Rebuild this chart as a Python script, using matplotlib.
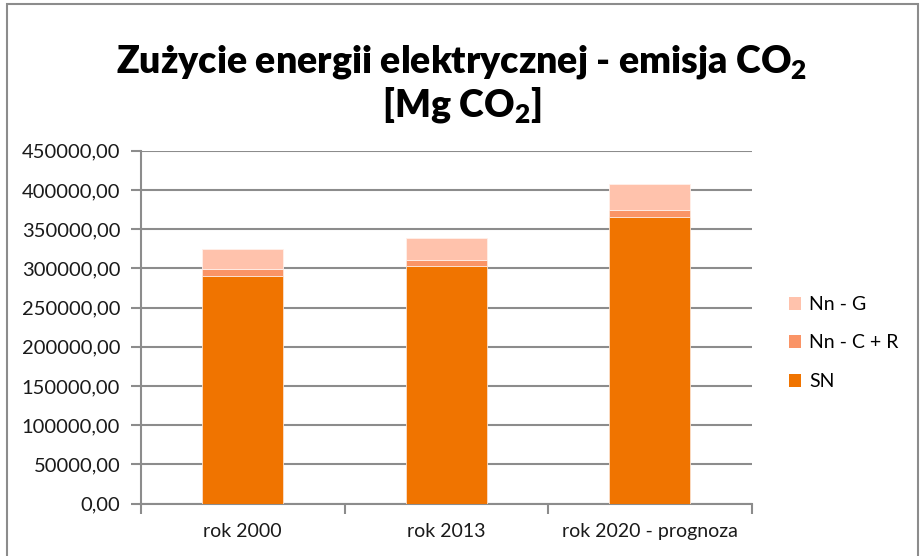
import matplotlib
matplotlib.use("Agg")
import matplotlib.pyplot as plt
from matplotlib.patches import Rectangle, Patch
import numpy as np

categories = ["rok 2000", "rok 2013", "rok 2020 - prognoza"]
sn = [290600, 303400, 365900]
nn_cr = [8200, 7700, 8900]
nn_g = [25500, 27200, 32700]
series_labels = ["SN", "Nn - C + R", "Nn - G"]
yticks = np.arange(0, 450001, 50000)

colors = ["#F07400", "#FA9466", "#FFC2AC"]

plt.rcParams['font.family'] = ['Lato', 'DejaVu Sans']

W, H = 923, 556
fig = plt.figure(figsize=(W / 100, H / 100), dpi=100)

def fx(px):
    return px / W

def fy(py):
    return 1 - py / H

# outer chart border
fig.patches.append(Rectangle((fx(7), fy(560)), fx(918) - fx(7), fy(4) - fy(560),
                             transform=fig.transFigure, fill=False,
                             edgecolor="#8c8c8c", linewidth=1.5))

ax = fig.add_axes([fx(141), fy(503.7), fx(751.5) - fx(141), fy(150.7) - fy(503.7)])

x = np.arange(len(categories))
bw = 0.40
ax.bar(x, sn, bw, color=colors[0], edgecolor="#fbe0cc", linewidth=0.6, zorder=3)
bottom2 = np.array(sn)
ax.bar(x, nn_cr, bw, bottom=bottom2, color=colors[1], edgecolor="#fde6da", linewidth=0.6, zorder=3)
bottom3 = bottom2 + np.array(nn_cr)
ax.bar(x, nn_g, bw, bottom=bottom3, color=colors[2], edgecolor="#fff0ea", linewidth=0.6, zorder=3)

ax.set_xlim(-0.5, len(categories) - 0.5)
ax.set_ylim(0, 450000)
ax.set_yticks(yticks)
ax.set_yticklabels([f"{v:.2f}".replace(".", ",") for v in yticks], fontsize=14.5, color="#1a1a1a")
ax.yaxis.grid(True, color="#8c8c8c", linewidth=1.5, zorder=0)
ax.set_axisbelow(True)

ax.set_xticks(x)
ax.set_xticklabels(categories, fontsize=14, color="#1a1a1a")
ax.tick_params(axis="x", length=0, pad=14)
ax.set_xticks(np.arange(-0.5, len(categories)), minor=True)
ax.tick_params(axis="x", which="minor", length=7, width=1.5, color="#8c8c8c", direction="out")
ax.tick_params(axis="y", length=7, width=1.5, color="#8c8c8c", pad=8)

for s in ["top", "right"]:
    ax.spines[s].set_visible(False)
for s in ["left", "bottom"]:
    ax.spines[s].set_color("#8c8c8c")
    ax.spines[s].set_linewidth(1.5)

# title
fig.text(0.5, fy(62), r"Zużycie energii elektrycznej - emisja CO$_\mathregular{2}$",
         ha="center", va="center", fontsize=27, fontweight="heavy", color="#000000")
fig.text(0.5, fy(105), r"[Mg CO$_\mathregular{2}$]",
         ha="center", va="center", fontsize=27, fontweight="heavy", color="#000000")

handles = [Patch(facecolor=colors[2], edgecolor="none"),
           Patch(facecolor=colors[1], edgecolor="none"),
           Patch(facecolor=colors[0], edgecolor="none")]
labels = [series_labels[2], series_labels[1], series_labels[0]]
fig.legend(handles, labels, loc="center left", bbox_to_anchor=(fx(781), fy(343)),
           frameon=False, fontsize=14, handlelength=0.65, handleheight=0.65,
           handletextpad=0.4, labelspacing=1.1, borderaxespad=0)

fig.savefig("out.png", dpi=100)
